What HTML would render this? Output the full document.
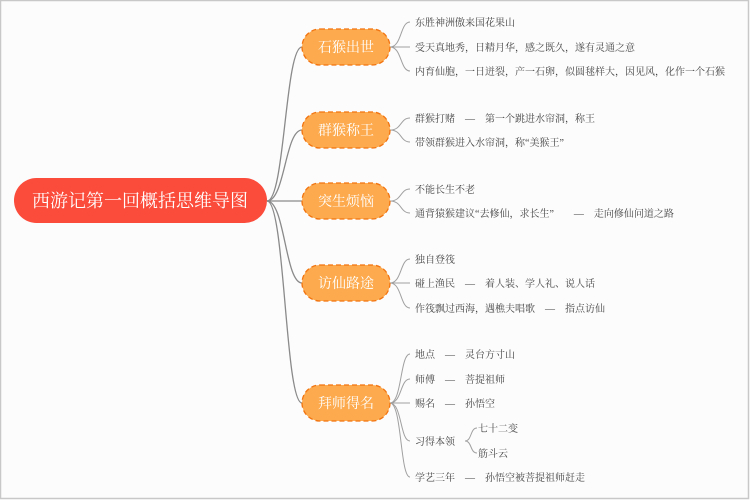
<!DOCTYPE html>
<html><head><meta charset="utf-8"><style>
html,body{margin:0;padding:0;background:#fff}
svg{display:block}
text{font-family:"Liberation Serif","Noto Serif CJK SC",serif}
</style></head><body>
<svg width="750" height="500" viewBox="0 0 750 500" xmlns="http://www.w3.org/2000/svg">
<rect x="0.5" y="0.5" width="748" height="498" fill="#fcfcfc" stroke="#c8c8c8" stroke-width="1.5"/>
<g fill="none" stroke="#8a8a8a" stroke-width="1.3">
<path d="M267 201 C285 201 285 47 302 47"/>
<path d="M267 201 C285 201 285 130 302 130"/>
<path d="M267 201 L302 201"/>
<path d="M267 201 C285 201 285 283 302 283"/>
<path d="M267 201 C285 201 285 403 302 403"/>
</g>
<g fill="none" stroke="#a0a0a0" stroke-width="1">
<path d="M390 47 C402 47 400 22 410 22"/><path d="M390 47 L410 47"/><path d="M390 47 C402 47 400 71 410 71"/>
<path d="M390 130 C402 130 400 118 410 118"/><path d="M390 130 C402 130 400 142 410 142"/>
<path d="M390 201 C402 201 400 189 410 189"/><path d="M390 201 C402 201 400 213 410 213"/>
<path d="M390 283 C402 283 400 259 410 259"/><path d="M390 283 L410 283"/><path d="M390 283 C402 283 400 308 410 308"/>
<path d="M390 403 C402 403 400 354 410 354"/><path d="M390 403 C402 403 400 379 410 379"/><path d="M390 403 L410 403"/>
<path d="M390 403 C402 403 400 441 410 441"/><path d="M390 403 C402 403 400 477 410 477"/>
<path d="M465 441 C472 441 470 428 477 428"/><path d="M465 441 C472 441 470 453 477 453"/>
</g>
<rect x="14" y="178" width="253" height="45" rx="22.5" fill="#fb4b3b"/>
<text x="140" y="207" font-size="18" fill="#fff" text-anchor="middle">西游记第一回概括思维导图</text>
<g fill="#fcaa4d" stroke="#f27410" stroke-width="1.3" stroke-dasharray="5,3">
<rect x="302" y="29" width="88" height="36" rx="18"/>
<rect x="302" y="112" width="88" height="36" rx="18"/>
<rect x="302" y="183" width="88" height="36" rx="18"/>
<rect x="302" y="265" width="88" height="36" rx="18"/>
<rect x="302" y="385" width="88" height="36" rx="18"/>
</g>
<g font-size="14" fill="#fff" text-anchor="middle">
<text x="346" y="52">石猴出世</text>
<text x="346" y="135">群猴称王</text>
<text x="346" y="206">突生烦恼</text>
<text x="346" y="288">访仙路途</text>
<text x="346" y="408">拜师得名</text>
</g>
<g font-size="10" fill="#444">
<text x="415" y="26">东胜神洲傲来国花果山</text>
<text x="415" y="51">受天真地秀，日精月华，感之既久，遂有灵通之意</text>
<text x="415" y="75">内育仙胞，一日迸裂，产一石卵，似圆毬样大，因见风，化作一个石猴</text>
<text x="415" y="122">群猴打赌　—　第一个跳进水帘洞，称王</text>
<text x="415" y="146">带领群猴进入水帘洞，称“美猴王”</text>
<text x="415" y="193">不能长生不老</text>
<text x="415" y="217">通背猿猴建议“去修仙，求长生”　　—　走向修仙问道之路</text>
<text x="415" y="263">独自登筏</text>
<text x="415" y="287">碰上渔民　—　着人装、学人礼、说人话</text>
<text x="415" y="312">作筏飘过西海，遇樵夫唱歌　—　指点访仙</text>
<text x="415" y="358">地点　—　灵台方寸山</text>
<text x="415" y="383">师傅　—　菩提祖师</text>
<text x="415" y="407">赐名　—　孙悟空</text>
<text x="415" y="445">习得本领</text>
<text x="478" y="432">七十二变</text>
<text x="478" y="457">筋斗云</text>
<text x="415" y="481">学艺三年　—　孙悟空被菩提祖师赶走</text>
</g>
</svg>
</body></html>
